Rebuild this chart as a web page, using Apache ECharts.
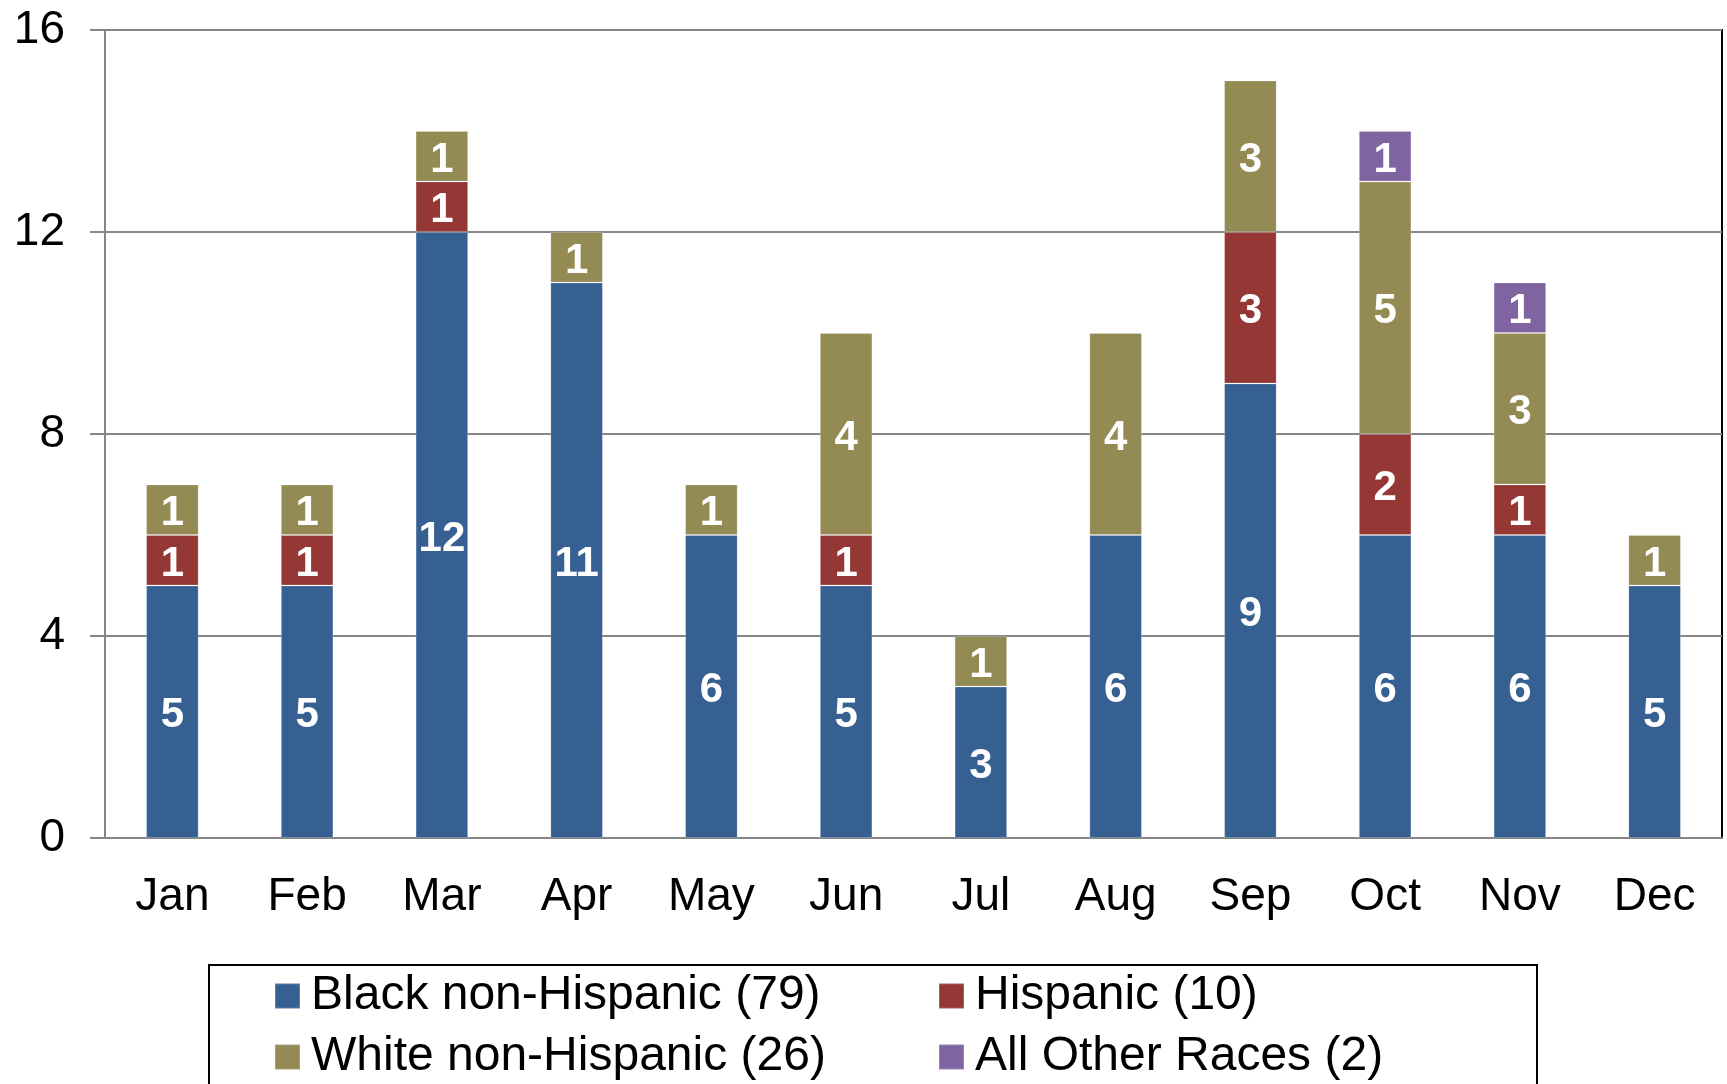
<!DOCTYPE html>
<html>
<head>
<meta charset="utf-8">
<script src="https://cdn.jsdelivr.net/npm/echarts@6/dist/echarts.min.js"></script>
<style>
  html, body { margin: 0; padding: 0; background: #fff; }
  #chart { width: 1727px; height: 1084px; }
</style>
</head>
<body>
<div id="chart"></div>
<script>
// categories and series (null = no segment)
const months = ['Jan', 'Feb', 'Mar', 'Apr', 'May', 'Jun', 'Jul', 'Aug', 'Sep', 'Oct', 'Nov', 'Dec']
const blackNonHispanic = [5, 5, 12, 11, 6, 5, 3, 6, 9, 6, 6, 5]
const hispanic = [1, 1, 1, null, null, 1, null, null, 3, 2, 1, null]
const whiteNonHispanic = [1, 1, 1, 1, 1, 4, 1, 4, 3, 5, 3, 1]
const allOtherRaces = [null, null, null, null, null, null, null, null, null, 1, 1, null]

const seriesNames = ['Black non-Hispanic (79)', 'Hispanic (10)', 'White non-Hispanic (26)', 'All Other Races (2)']
const seriesColors = ['#376092', '#953735', '#948A54', '#8064A2']
const seriesData = [blackNonHispanic, hispanic, whiteNonHispanic, allOtherRaces]

const yTicks = { min: 0, max: 16, interval: 4 }

const font = 'Arial, "Liberation Sans", sans-serif'

const chart = echarts.init(document.getElementById('chart'))

// legend item positions (two rows, two columns)
const legendPos = [
  { left: 274, top: 972 },
  { left: 938, top: 972 },
  { left: 274, top: 1033 },
  { left: 938, top: 1033 }
]

chart.setOption({
  animation: false,
  grid: {
    left: 105, right: 5, top: 30, bottom: 246,
    show: true, borderColor: '#000', borderWidth: 2, backgroundColor: 'transparent'
  },
  legend: seriesNames.map((name, i) => ({
    data: [name],
    left: legendPos[i].left,
    top: legendPos[i].top,
    itemWidth: 25,
    itemHeight: 25,
    icon: 'rect',
    padding: 0,
    textStyle: { fontFamily: font, fontSize: 48, color: '#000', padding: [0, 0, 0, 6] }
  })),
  graphic: [{
    type: 'rect',
    shape: { x: 209, y: 965, width: 1328, height: 200 },
    style: { fill: 'none', stroke: '#000', lineWidth: 2 }
  }],
  xAxis: {
    type: 'category',
    data: months,
    axisLine: { lineStyle: { color: '#868686', width: 2 } },
    axisTick: { length: 14, lineStyle: { color: '#868686', width: 2 } },
    axisLabel: { fontFamily: font, fontSize: 46, color: '#000', margin: 36 }
  },
  yAxis: {
    type: 'value',
    min: yTicks.min,
    max: yTicks.max,
    interval: yTicks.interval,
    axisLine: { show: true, lineStyle: { color: '#868686', width: 2 } },
    axisTick: { show: true, length: 15, lineStyle: { color: '#868686', width: 2 } },
    splitLine: { lineStyle: { color: '#868686', width: 2 } },
    axisLabel: { fontFamily: font, fontSize: 46, color: '#000', margin: 40 }
  },
  series: seriesNames.map((name, i) => ({
    name,
    type: 'bar',
    stack: 'total',
    barWidth: '39%',
    data: seriesData[i],
    itemStyle: { color: seriesColors[i], borderColor: 'rgba(255,255,255,0.2)', borderWidth: 1 },
    label: {
      show: true,
      position: 'inside',
      offset: [0, 4],
      color: '#fff',
      fontFamily: font,
      fontWeight: 'bold',
      fontSize: 42
    }
  }))
})
</script>
</body>
</html>
